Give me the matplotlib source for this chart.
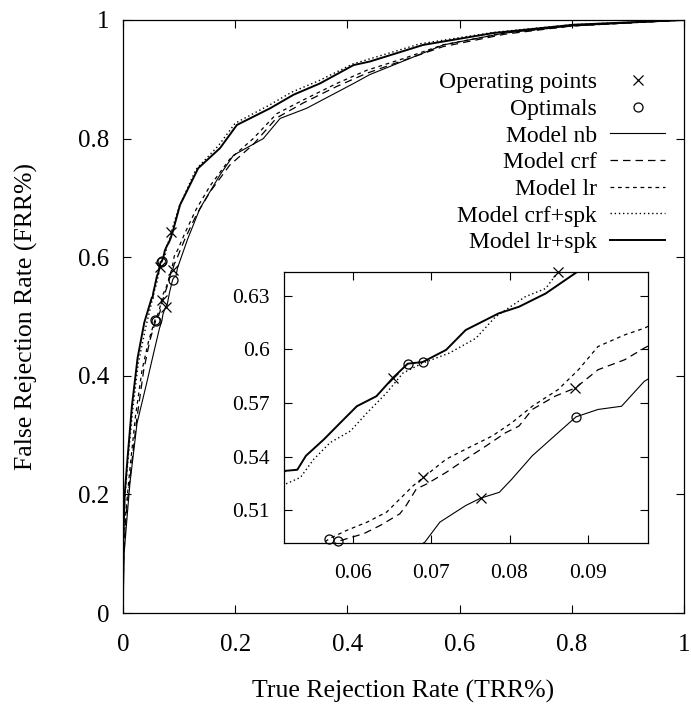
import matplotlib
matplotlib.use('Agg')
import matplotlib.pyplot as plt
from matplotlib.ticker import FormatStrFormatter

plt.rcParams['font.family'] = ['Liberation Serif', 'DejaVu Serif']

# curvas ROC (x = TRR, y = FRR)
nb_x = [0, 0.002, 0.008, 0.0125, 0.025, 0.042, 0.055, 0.065, 0.0692, 0.0700, 0.0711, 0.0744, 0.0763,
        0.0787, 0.0803, 0.0829, 0.0862, 0.0885, 0.0913, 0.0943, 0.0972, 0.115, 0.137, 0.173, 0.197,
        0.25, 0.28, 0.327, 0.411, 0.44, 0.482, 0.571, 0.68, 0.8, 1.0]
nb_y = [0, 0.10, 0.17, 0.22, 0.32, 0.387, 0.44, 0.48, 0.4922, 0.4969, 0.5033, 0.5126, 0.5167,
        0.5200, 0.5274, 0.5404, 0.5533, 0.5622, 0.5663, 0.5681, 0.5820, 0.63, 0.682, 0.739, 0.772,
        0.80, 0.834, 0.851, 0.893, 0.908, 0.924, 0.958, 0.978, 0.99, 1.0]

crf_x = [0, 0.001, 0.006, 0.014, 0.025, 0.037, 0.048, 0.0581, 0.0614, 0.0635, 0.0660, 0.0668, 0.0681,
         0.0694, 0.0719, 0.0744, 0.0770, 0.0795, 0.0812, 0.0829, 0.0858, 0.0884, 0.0913, 0.0947, 0.0972,
         0.11, 0.13, 0.155, 0.19, 0.232, 0.274, 0.321, 0.381, 0.434, 0.5, 0.57, 0.68, 0.8, 1.0]
crf_y = [0, 0.09, 0.17, 0.24, 0.33, 0.41, 0.46, 0.4926, 0.4969, 0.5015, 0.5080, 0.5126, 0.5219,
         0.5246, 0.5311, 0.5385, 0.5459, 0.5533, 0.5570, 0.5663, 0.5737, 0.5783, 0.5885, 0.5941, 0.6006,
         0.63, 0.67, 0.71, 0.755, 0.79, 0.835, 0.86, 0.888, 0.91, 0.932, 0.955, 0.976, 0.99, 1.0]

lr_x = [0, 0.001, 0.005, 0.012, 0.022, 0.034, 0.046, 0.0570, 0.0592, 0.0618, 0.0643, 0.0660, 0.0677,
        0.0690, 0.0719, 0.0744, 0.0778, 0.0803, 0.0829, 0.0862, 0.0888, 0.0913, 0.0947, 0.0972,
        0.11, 0.13, 0.155, 0.19, 0.232, 0.274, 0.321, 0.381, 0.434, 0.5, 0.57, 0.68, 0.8, 1.0]
lr_y = [0, 0.10, 0.17, 0.24, 0.33, 0.41, 0.46, 0.4941, 0.4987, 0.5033, 0.5089, 0.5163, 0.5237,
        0.5283, 0.5385, 0.5441, 0.5515, 0.5589, 0.5681, 0.5774, 0.5885, 0.6015, 0.6080, 0.6117,
        0.64, 0.68, 0.72, 0.765, 0.80, 0.842, 0.865, 0.893, 0.915, 0.935, 0.958, 0.978, 0.99, 1.0]

crfspk_x = [0, 0.0005, 0.003, 0.009, 0.017, 0.027, 0.04, 0.0514, 0.0533, 0.0550, 0.0571, 0.0597, 0.0618,
            0.0643, 0.0664, 0.0689, 0.0723, 0.0757, 0.0782, 0.0820, 0.0846, 0.0862,
            0.1, 0.13, 0.17, 0.2, 0.26, 0.3, 0.35, 0.41, 0.53, 0.66, 0.8, 1.0]
crfspk_y = [0, 0.11, 0.19, 0.26, 0.34, 0.42, 0.48, 0.5246, 0.5283, 0.5385, 0.5478, 0.5543, 0.5644,
            0.5756, 0.5867, 0.5922, 0.5978, 0.6061, 0.6181, 0.6293, 0.6339, 0.6431,
            0.685, 0.748, 0.788, 0.826, 0.856, 0.878, 0.898, 0.926, 0.96, 0.979, 0.992, 1.0]

lrspk_x = [0, 0.0005, 0.003, 0.008, 0.016, 0.026, 0.038, 0.0514, 0.0529, 0.0540, 0.0563, 0.0584, 0.0605,
           0.0630, 0.0651, 0.0670, 0.0689, 0.0719, 0.0744, 0.0786, 0.0812, 0.0846, 0.0886,
           0.1016, 0.134, 0.173, 0.203, 0.262, 0.304, 0.351, 0.411, 0.44, 0.535, 0.66, 0.803, 1.0]
lrspk_y = [0, 0.12, 0.20, 0.26, 0.35, 0.43, 0.49, 0.532, 0.5326, 0.5404, 0.5496, 0.5589, 0.5681,
           0.5737, 0.5839, 0.5919, 0.5928, 0.5996, 0.6107, 0.6200, 0.6237, 0.6311, 0.6431,
           0.688, 0.750, 0.784, 0.823, 0.851, 0.874, 0.893, 0.924, 0.930, 0.958, 0.978, 0.992, 1.0]

# pontos de operacao (x) e otimos (o): lr+spk, crf+spk, lr, crf, nb
oper_x = [0.0651, 0.0862, 0.0690, 0.0884, 0.0763]
oper_y = [0.5839, 0.6431, 0.5283, 0.5783, 0.5167]
otim_x = [0.0670, 0.0689, 0.0570, 0.0581, 0.0885]
otim_y = [0.5919, 0.5928, 0.4941, 0.4926, 0.5622]

modelos = ['Model nb', 'Model crf', 'Model lr', 'Model crf+spk', 'Model lr+spk']
curvas = [(nb_x, nb_y), (crf_x, crf_y), (lr_x, lr_y), (crfspk_x, crfspk_y), (lrspk_x, lrspk_y)]
estilos = [dict(ls='-', lw=0.8), dict(ls=(0, (6, 4)), lw=0.9), dict(ls=(0, (3, 3)), lw=0.9),
           dict(ls=(0, (1, 2)), lw=1.0), dict(ls='-', lw=1.4)]


def desenha(ax):
    linhas = []
    for (cx, cy), est, nome in zip(curvas, estilos, modelos):
        l, = ax.plot(cx, cy, color='black', label=nome, **est)
        linhas.append(l)
    p1, = ax.plot(oper_x, oper_y, 'x', color='black', ms=7, mew=0.9, ls='none',
                  label='Operating points', clip_on=False)
    p2, = ax.plot(otim_x, otim_y, 'o', mfc='none', mec='black', ms=6.5, mew=0.9, ls='none',
                  label='Optimals', clip_on=False)
    return [p1, p2] + linhas


def estilo_eixos(ax, tam):
    ax.tick_params(direction='in', top=True, right=True, length=6, width=0.8, labelsize=tam)
    ax.tick_params(axis='x', pad=15)
    ax.tick_params(axis='y', pad=10)
    for s in ax.spines.values():
        s.set_linewidth(0.9)


fig = plt.figure(figsize=(6.91, 7.09), dpi=100)
ax = fig.add_axes([0.178, 0.1354, 0.812, 0.8364])
handles = desenha(ax)
ax.set_xlim(0, 1)
ax.set_ylim(0, 1)
ax.set_xticks([0, 0.2, 0.4, 0.6, 0.8, 1])
ax.set_yticks([0, 0.2, 0.4, 0.6, 0.8, 1])
ax.xaxis.set_major_formatter(FormatStrFormatter('%g'))
ax.yaxis.set_major_formatter(FormatStrFormatter('%g'))
estilo_eixos(ax, 18)
ax.set_xlabel('True Rejection Rate (TRR%)', fontsize=18.5)
ax.set_ylabel('False Rejection Rate (FRR%)', fontsize=18.5)
ax.xaxis.set_label_coords(0.5, -0.113)
ax.yaxis.set_label_coords(-0.152, 0.5)

ax.legend(handles=handles, loc='upper right', bbox_to_anchor=(0.966, 0.913), markerfirst=False,
          frameon=False, fontsize=17, handlelength=2.33, handletextpad=0.55, labelspacing=0.22,
          borderpad=0, borderaxespad=0, numpoints=1)

# grafico ampliado
axin = fig.add_axes([0.411, 0.234, 0.527, 0.382])
desenha(axin)
axin.set_xlim(0.0512, 0.0977)
axin.set_ylim(0.4916, 0.643)
axin.set_xticks([0.06, 0.07, 0.08, 0.09])
axin.set_yticks([0.51, 0.54, 0.57, 0.6, 0.63])
axin.xaxis.set_major_formatter(FormatStrFormatter('%g'))
axin.yaxis.set_major_formatter(FormatStrFormatter('%g'))
estilo_eixos(axin, 15.5)

fig.savefig('out.png', dpi=100)
